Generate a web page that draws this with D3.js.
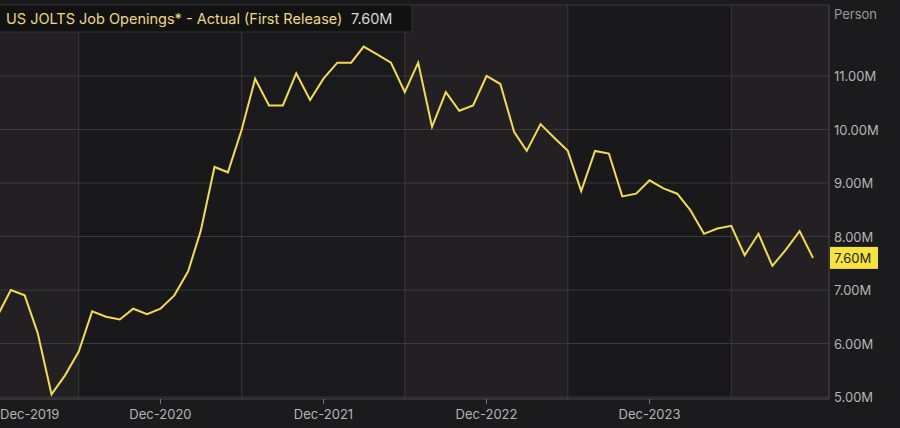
<!DOCTYPE html>
<html><head><meta charset="utf-8">
<script src="https://cdn.jsdelivr.net/npm/d3@7"></script>
<style>body{margin:0;background:#1b1a1c;}svg{display:block;font-family:Inter,"Open Sans",sans-serif;}</style>
</head><body><svg id="c" width="900" height="428"></svg>
<script>
const startMonth = "2019-12";
const values = [6.5,7.0,6.9,6.2,5.05,5.4,5.85,6.6,6.5,6.45,6.65,6.55,6.65,
6.9,7.35,8.1,9.3,9.2,10.0,10.95,10.45,10.45,11.05,10.55,10.95,
11.25,11.25,11.55,11.4,11.25,10.7,11.25,10.05,10.7,10.35,10.45,11.0,
10.85,9.95,9.6,10.1,9.85,9.6,8.85,9.6,9.55,8.75,8.8,9.05,
8.9,8.8,8.5,8.05,8.15,8.2,7.65,8.05,7.45,7.75,8.1,7.6];
const yTicks = [5,6,7,8,9,10,11];
const xTickLabels = ["Dec-2019","Dec-2020","Dec-2021","Dec-2022","Dec-2023"];
const title = "US JOLTS Job Openings* - Actual (First Release)";
const lastLabel = "7.60M";

const svg = d3.select("#c");
const parse = d3.timeParse("%Y-%m");
const dates = values.map((v,i)=>d3.timeMonth.offset(parse(startMonth),i));
const x = d3.scaleTime().domain([dates[0], dates[dates.length-1]]).range([-3,813]);
const y = d3.scaleLinear().domain([5,11]).range([397,76]);
const L=0,R=829,T=5,B=399;

svg.append("rect").attr("width",900).attr("height",428).attr("fill","#1b1a1c");
const junes = [2020,2021,2022,2023,2024].map(yr=>new Date(yr,5,1));
const edges = [L, ...junes.map(x), R];
const shades = ["#222022","#19181a","#1a191b","#222022","#19181a","#222022"];
for(let i=0;i<edges.length-1;i++){
  svg.append("rect").attr("x",edges[i]).attr("y",T).attr("width",edges[i+1]-edges[i]).attr("height",B-T).attr("fill",shades[i]);
}
yTicks.forEach(t=>svg.append("line").attr("x1",L).attr("x2",R).attr("y1",y(t)).attr("y2",y(t)).attr("stroke","#3a393b").attr("stroke-width",1));
junes.forEach(d=>svg.append("line").attr("x1",x(d)).attr("x2",x(d)).attr("y1",T).attr("y2",B).attr("stroke","#3a393b"));
svg.append("line").attr("x1",L).attr("x2",R).attr("y1",T).attr("y2",T).attr("stroke","#3a393b");
svg.append("line").attr("x1",R).attr("x2",R).attr("y1",T).attr("y2",B).attr("stroke","#4a494b");
svg.append("line").attr("x1",L).attr("x2",R).attr("y1",B).attr("y2",B).attr("stroke","#4a494b");

xTickLabels.forEach((lbl,i)=>{
  const d = d3.timeParse("%b-%Y")(lbl);
  const px = x(d);
  svg.append("line").attr("x1",px).attr("x2",px).attr("y1",B).attr("y2",B+5).attr("stroke","#777");
  const t = svg.append("text").attr("y",419).attr("fill","#b5b5b5").attr("font-size",13).text(lbl);
  if(px < 40) t.attr("x",0).attr("text-anchor","start");
  else t.attr("x",px).attr("text-anchor","middle");
});
yTicks.forEach(t=>svg.append("text").attr("x",834).attr("y",y(t)+5).attr("fill","#b5b5b5").attr("font-size",13).text(d3.format(".2f")(t)+"M"));
svg.append("text").attr("x",834).attr("y",19).attr("fill","#9a9a9a").attr("font-size",13).text("Person");

svg.append("path").datum(values).attr("fill","none").attr("stroke","#f2dd4c").attr("stroke-width",2)
  .attr("d",d3.line().x((d,i)=>x(dates[i])).y(d=>y(d)));

const lv = values[values.length-1];
svg.append("rect").attr("x",830).attr("y",y(lv)-11).attr("width",48).attr("height",22).attr("fill","#f7e33e");
svg.append("text").attr("x",834).attr("y",y(lv)+5).attr("fill","#222").attr("font-size",13).text(lastLabel);

svg.append("rect").attr("x",-1).attr("y",5).attr("width",413).attr("height",27).attr("fill","#121212").attr("stroke","#333");
svg.append("text").attr("x",6).attr("y",24).attr("fill","#ecd980").attr("font-size",14.5).text(title);
svg.append("text").attr("x",351).attr("y",24).attr("fill","#d8d8d8").attr("font-size",14.5).text(lastLabel);
</script></body></html>
